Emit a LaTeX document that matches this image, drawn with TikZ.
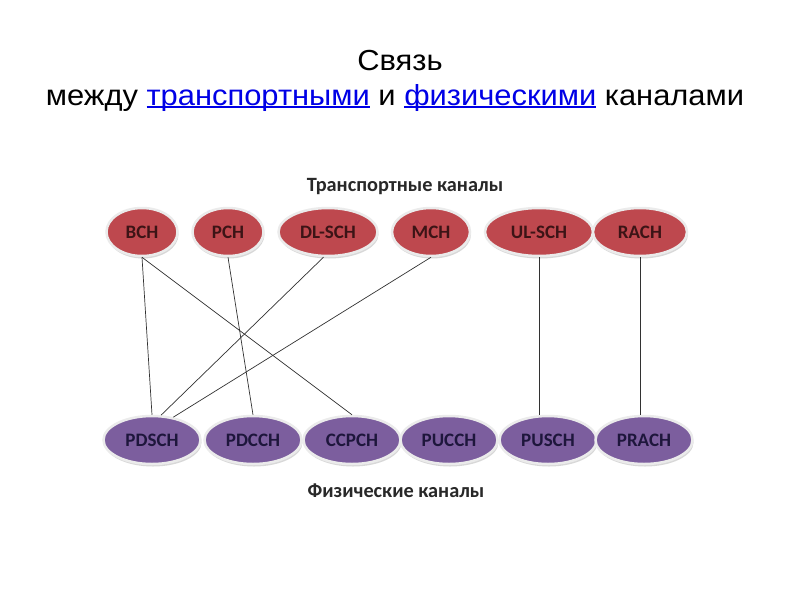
\documentclass[tikz,border=0pt]{standalone}
\usepackage{fontspec}
\setmainfont{Liberation Sans}
\newfontfamily\ttlfont[FakeStretch=1.065]{Liberation Sans}
\newfontfamily\calib{Carlito}
\usetikzlibrary{shapes.geometric,shadows}
\definecolor{chred}{RGB}{190,72,78}
\definecolor{chpurple}{RGB}{124,94,158}
\definecolor{linkblue}{RGB}{0,0,230}
\definecolor{rimgray}{RGB}{235,235,235}
\newcommand\myul[1]{\setbox0\hbox{#1}\rlap{\rule[-2.6pt]{\wd0}{1.3pt}}#1}
\begin{document}
\begin{tikzpicture}[x=1pt,y=-1pt,
  chan/.style={ellipse,inner sep=0pt,minimum height=48pt,draw=rimgray,line width=2.5pt,
     drop shadow={shadow xshift=1pt,shadow yshift=-2.5pt,fill=black!30},
     font=\calib\bfseries\fontsize{19}{19}\selectfont},
  trans/.style={chan,fill=chred,text={rgb,255:red,60;green,20;blue,22}},
  phys/.style={chan,fill=chpurple,text={rgb,255:red,30;green,22;blue,60},minimum width=97pt},
  head/.style={anchor=base,font=\calib\bfseries\fontsize{20.3}{20.3}\selectfont,text={rgb,255:red,40;green,40;blue,40}},
  ttl/.style={anchor=base,font=\ttlfont\fontsize{29}{29}\selectfont},
  link/.style={draw={rgb,255:red,50;green,50;blue,50},line width=0.7pt}]
\useasboundingbox[fill=white] (0,0) rectangle (800,600);
\node[ttl] (t1) at (400,70.5) {Связь};
\node[ttl] (t2) at (395,105) {между \textcolor{linkblue}{\myul{транспортными}} и \textcolor{linkblue}{\myul{физическими}} каналами};
\node[head] (th) at (405,191) {Транспортные каналы};
\node[head] (ph) at (396,497) {Физические каналы};
% transport
\node[trans,minimum width=71pt] (bch) at (142,232) {BCH};
\node[trans,minimum width=71pt] (pch) at (228,232) {PCH};
\node[trans,minimum width=99pt] (dlsch) at (328,232) {DL-SCH};
\node[trans,minimum width=78pt] (mch) at (431,232) {MCH};
\node[trans,minimum width=108pt] (ulsch) at (539,232) {UL-SCH};
\node[trans,minimum width=94pt] (rach) at (640,232) {RACH};
% physical
\node[phys] (pdsch) at (152,440) {PDSCH};
\node[phys] (pdcch) at (253,440) {PDCCH};
\node[phys] (ccpch) at (352,440) {CCPCH};
\node[phys] (pucch) at (449,440) {PUCCH};
\node[phys] (pusch) at (548,440) {PUSCH};
\node[phys] (prach) at (644,440) {PRACH};
% links
\draw[link] (bch.south) -- (pdsch.north);
\draw[link] (bch.south) -- (ccpch.north);
\draw[link] (pch.south) -- (pdcch.north);
\draw[link] (dlsch.-100) -- (pdsch.70);
\draw[link] (mch.south) -- (pdsch.47);
\draw[link] (ulsch.south) -- (ulsch.south |- pusch.north);
\draw[link] (rach.south) -- (rach.south |- prach.north);
\end{tikzpicture}
\end{document}
